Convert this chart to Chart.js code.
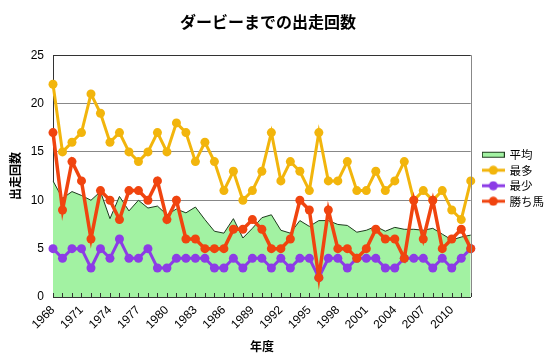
<!DOCTYPE html>
<html><head><meta charset="utf-8">
<script src="https://cdn.jsdelivr.net/npm/chart.js@4"></script>
<style>html,body{margin:0;padding:0;background:#fff}</style>
</head><body>
<canvas id="c" width="550" height="364"></canvas>
<script>
const years = ['1968','1969','1970','1971','1972','1973','1974','1975','1976','1977','1978','1979','1980','1981','1982','1983','1984','1985','1986','1987','1988','1989','1990','1991','1992','1993','1994','1995','1996','1997','1998','1999','2000','2001','2002','2003','2004','2005','2006','2007','2008','2009','2010','2011','2012'];
const avgRuns = [12.0,10.2,10.9,10.5,10.0,10.9,8.1,10.4,8.9,10.0,9.2,9.4,8.5,9.1,8.7,9.3,8.0,6.8,6.6,8.1,6.1,7.1,8.2,8.5,6.9,6.6,7.9,7.3,7.9,7.9,7.5,7.4,6.7,6.9,7.3,6.8,7.2,7.0,7.0,6.9,7.1,6.5,5.9,6.2,6.4];
const maxRuns = [22,15,16,17,21,19,16,17,15,14,15,17,15,18,17,14,16,14,11,13,10,11,13,17,12,14,13,11,17,12,12,14,11,11,13,11,12,14,10,11,10,11,9,8,12];
const minRuns = [5,4,5,5,3,5,4,6,4,4,5,3,3,4,4,4,4,3,3,4,3,4,4,3,4,3,4,4,2,4,4,3,4,4,4,3,3,4,4,4,3,4,3,4,5];
const winnerRuns = [17,9,14,12,6,11,10,8,11,11,10,12,8,10,6,6,5,5,5,7,7,8,7,5,5,6,10,9,2,9,5,5,4,5,7,6,6,4,10,6,10,5,6,7,5];
const yTicks = [0,5,10,15,20,25];

const FONT = "'Liberation Sans','Noto Sans CJK JP',sans-serif";
const JFONT = "'Noto Sans CJK JP','Liberation Sans',sans-serif";
const GREEN = '#a2f2a2', GREEN_LINE = '#1e3a1e';
const YELLOW = '#f2b50c', PURPLE = '#8c3ce6', RED = '#f0440f';

function lineIcon(color){
  const c = document.createElement('canvas'); c.width = 23; c.height = 10;
  const x = c.getContext('2d');
  x.strokeStyle = color; x.lineWidth = 3; x.beginPath(); x.moveTo(0,5); x.lineTo(23,5); x.stroke();
  x.fillStyle = color; x.beginPath(); x.arc(11.5,5,4.5,0,Math.PI*2); x.fill();
  return c;
}
function areaIcon(){
  const c = document.createElement('canvas'); c.width = 23; c.height = 8;
  const x = c.getContext('2d');
  x.fillStyle = GREEN; x.fillRect(0.5,1.5,22,5);
  x.strokeStyle = GREEN_LINE; x.lineWidth = 1; x.strokeRect(0.5,1.5,22,5);
  return c;
}
const icons = [areaIcon(), lineIcon(YELLOW), lineIcon(PURPLE), lineIcon(RED)];

const frame = {
  id: 'frame',
  afterLayout(chart){
    const lg = chart.legend;
    if (lg) { lg.left += 8; lg.top -= 4; lg.bottom -= 4; }
    const tb = chart.titleBlock;
    if (tb) { tb.left -= 5; tb.right -= 5; }
  },
  afterDatasetsDraw(chart){
    const ctx = chart.ctx, a = chart.chartArea, xs = chart.scales.x;
    ctx.save();
    ctx.strokeStyle = '#888'; ctx.lineWidth = 1;
    ctx.beginPath(); ctx.moveTo(Math.round(a.right)+0.5, a.top); ctx.lineTo(Math.round(a.right)+0.5, a.bottom); ctx.stroke();
    ctx.strokeStyle = '#333';
    ctx.beginPath();
    xs.ticks.forEach((t,i)=>{ const px = Math.round(xs.getPixelForTick(i))+0.5; ctx.moveTo(px, a.bottom); ctx.lineTo(px, a.bottom-4); });
    ctx.stroke();
    ctx.restore();
  }
};

new Chart(document.getElementById('c'), {
  type: 'line',
  data: {
    labels: years,
    datasets: [
      {label:'平均', data: avgRuns, fill:'origin', backgroundColor: GREEN, borderColor: GREEN_LINE, borderWidth: 1, pointRadius: 0, tension: 0, order: 4},
      {label:'最多', data: maxRuns, fill:false, borderColor: YELLOW, backgroundColor: YELLOW, borderWidth: 3, pointRadius: 4.5, pointBorderWidth: 0, pointBackgroundColor: YELLOW, tension: 0, order: 3, clip: false},
      {label:'最少', data: minRuns, fill:false, borderColor: PURPLE, backgroundColor: PURPLE, borderWidth: 3, pointRadius: 4.5, pointBorderWidth: 0, pointBackgroundColor: PURPLE, tension: 0, order: 2, clip: false},
      {label:'勝ち馬', data: winnerRuns, fill:false, borderColor: RED, backgroundColor: RED, borderWidth: 3.5, pointRadius: 4.5, pointBorderWidth: 0, pointBackgroundColor: RED, tension: 0, order: 1, clip: false}
    ]
  },
  options: {
    responsive: false, animation: false, devicePixelRatio: 1,
    layout: {padding: {left: 0, right: 4, top: 0, bottom: 0}},
    plugins: {
      title: {display: true, text: 'ダービーまでの出走回数', color: '#000', font: {family: JFONT, size: 16, weight: 'bold'}, padding: {top: 12, bottom: 24}},
      legend: {
        position: 'right', align: 'center',
        labels: {
          usePointStyle: true, pointStyleWidth: 21, padding: 4, color: '#000',
          font: {family: JFONT, size: 11.5},
          generateLabels: (chart) => chart.data.datasets.map((ds, i) => ({
            text: ds.label, pointStyle: icons[i], datasetIndex: i, hidden: false,
            fillStyle: 'transparent', strokeStyle: 'transparent', lineWidth: 0, fontColor: '#000'
          }))
        }
      },
      tooltip: {enabled: false}
    },
    scales: {
      x: {
        type: 'category', offset: false,
        grid: {drawOnChartArea: false, drawTicks: false, color: 'transparent'},
        border: {display: true, color: '#333', width: 1},
        ticks: {autoSkip: false, minRotation: 45, maxRotation: 45, padding: 6, color: '#000', font: {family: FONT, size: 12},
          callback: (v, i) => (i % 3 === 0 ? years[i] : '')},
        title: {display: true, text: '年度', color: '#000', font: {family: JFONT, size: 12, weight: 'bold'}, padding: {top: 0, bottom: 10}},
        afterFit: (s) => { s.height = 67; }
      },
      y: {
        min: 0, max: 25,
        afterBuildTicks: (s) => { s.ticks = yTicks.map(v => ({value: v})); },
        grid: {drawTicks: false, color: (c) => (c.tick && c.tick.value === 25 ? '#333' : '#888')},
        border: {display: true, color: '#333', width: 1},
        ticks: {padding: 9, color: '#000', font: {family: FONT, size: 12}},
        title: {display: true, text: '出走回数', color: '#000', font: {family: JFONT, size: 12, weight: 'bold'}, padding: {top: 8, bottom: 0}},
        afterFit: (s) => { s.width = 53; }
      }
    }
  },
  plugins: [frame]
});
</script>
</body></html>
